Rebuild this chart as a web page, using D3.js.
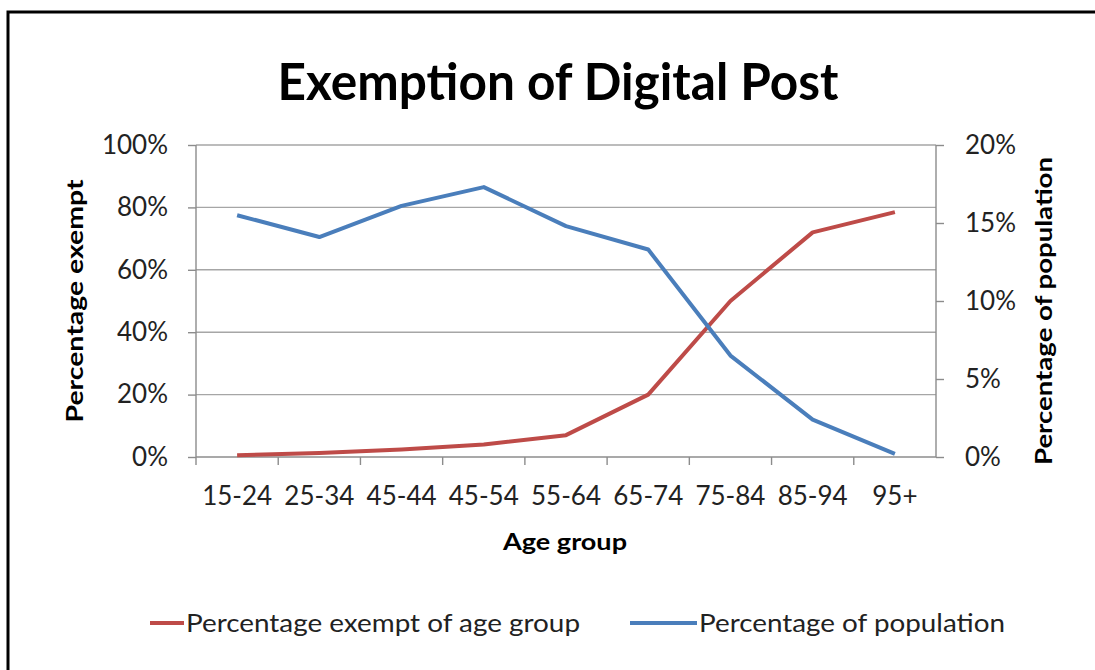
<!DOCTYPE html>
<html>
<head>
<meta charset="utf-8">
<script src="https://cdn.jsdelivr.net/npm/d3@7/dist/d3.min.js"></script>
<style>
  html, body { margin: 0; padding: 0; background: #fff; }
  svg { display: block; }
  text { font-family: Lato, "Open Sans", sans-serif; fill: #222; }
</style>
</head>
<body>
<svg id="chart" width="1095" height="670"></svg>
<script>
// Age groups on the category axis
const categories = ["15-24", "25-34", "45-44", "45-54", "55-64", "65-74", "75-84", "85-94", "95+"];
// Share of each age group that is exempt (left axis, %)
const exemptPct = [0.6, 1.3, 2.4, 4.0, 7.0, 20.0, 50.0, 72.0, 78.5];
// Share of the total population in each age group (right axis, %)
const populationPct = [15.5, 14.1, 16.1, 17.3, 14.8, 13.3, 6.5, 2.4, 0.2];
// Axis tick values
const leftTicks = [0, 20, 40, 60, 80, 100];
const rightTicks = [0, 5, 10, 15, 20];

const svg = d3.select("#chart");
const plot = { left: 196, right: 936, top: 145, bottom: 457 };

const x = d3.scaleBand().domain(categories).range([plot.left, plot.right]).padding(0);
const yL = d3.scaleLinear().domain([0, 100]).range([plot.bottom, plot.top]);
const yR = d3.scaleLinear().domain([0, 20]).range([plot.bottom, plot.top]);
const cx = c => x(c) + x.bandwidth() / 2;

// squeeze a text node to a given width when its natural width differs
function fit(sel, w) {
  sel.each(function () {
    const n = this.getComputedTextLength();
    if (Math.abs(n - w) / w > 0.02) {
      d3.select(this).attr("textLength", w).attr("lengthAdjust", "spacingAndGlyphs");
    }
  });
  return sel;
}

// outer frame
svg.append("path")
  .attr("d", "M8,670 V12 H1095")
  .attr("fill", "none").attr("stroke", "#000").attr("stroke-width", 3);

// title
fit(svg.append("text")
  .attr("x", 558).attr("y", 100)
  .attr("text-anchor", "middle")
  .style("font-size", "52px").style("font-weight", "bold").style("fill", "#000")
  .text("Exemption of Digital Post"), 561);

// horizontal gridlines
svg.append("g").selectAll("line")
  .data(leftTicks.filter(d => d > 0))
  .join("line")
  .attr("x1", plot.left).attr("x2", plot.right)
  .attr("y1", d => yL(d)).attr("y2", d => yL(d))
  .attr("stroke", "#a6a6a6").attr("stroke-width", 1.4);

// left axis
const axL = svg.append("g")
  .attr("transform", `translate(${plot.left},0)`)
  .call(d3.axisLeft(yL).tickValues(leftTicks).tickFormat(d => d + "%").tickSize(8).tickPadding(20));
// right axis
const axR = svg.append("g")
  .attr("transform", `translate(${plot.right},0)`)
  .call(d3.axisRight(yR).tickValues(rightTicks).tickFormat(d => d + "%").tickSize(8).tickPadding(21));
// category axis with ticks on the band boundaries
const axB = svg.append("g")
  .attr("transform", `translate(0,${plot.bottom})`)
  .call(d3.axisBottom(x).tickSize(0).tickPadding(30));
axB.selectAll(".tick").append("line")
  .attr("x1", -x.bandwidth() / 2).attr("x2", -x.bandwidth() / 2)
  .attr("y1", 0).attr("y2", 8);
axB.append("line")
  .attr("x1", plot.right).attr("x2", plot.right).attr("y1", 0).attr("y2", 8);

[axL, axR, axB].forEach(ax => {
  ax.select(".domain").attr("stroke", "#8c8c8c").attr("stroke-width", 1.4);
  ax.selectAll(".tick line").attr("stroke", "#8c8c8c").attr("stroke-width", 1.4);
  ax.selectAll("text")
    .style("font-family", "Lato, sans-serif").style("font-size", "26px").style("fill", "#222");
});
axB.select(".domain").attr("d", `M${plot.left},0H${plot.right}`);
axL.select(".domain").attr("d", `M0,${plot.bottom}V${plot.top}`);
axR.select(".domain").attr("d", `M0,${plot.bottom}V${plot.top}`);

// axis titles
fit(svg.append("text")
  .attr("x", 565).attr("y", 550)
  .attr("text-anchor", "middle")
  .style("font-size", "22px").style("font-weight", "bold").style("fill", "#000")
  .text("Age group"), 124);

fit(svg.append("text")
  .attr("transform", "translate(83,301) rotate(-90)")
  .attr("text-anchor", "middle")
  .style("font-size", "22px").style("font-weight", "bold").style("fill", "#000")
  .text("Percentage exempt"), 243);

fit(svg.append("text")
  .attr("transform", "translate(1052,311) rotate(-90)")
  .attr("text-anchor", "middle")
  .style("font-size", "22px").style("font-weight", "bold").style("fill", "#000")
  .text("Percentage of population"), 308);

// series lines
const red = "#be4b48", blue = "#4a7ebb";
const lineL = d3.line().x((d, i) => cx(categories[i])).y(d => yL(d));
const lineR = d3.line().x((d, i) => cx(categories[i])).y(d => yR(d));

svg.append("path").datum(exemptPct)
  .attr("d", lineL).attr("fill", "none")
  .attr("stroke", red).attr("stroke-width", 4).attr("stroke-linejoin", "round");
svg.append("path").datum(populationPct)
  .attr("d", lineR).attr("fill", "none")
  .attr("stroke", blue).attr("stroke-width", 4).attr("stroke-linejoin", "round");

// legend
const legend = [
  { label: "Percentage exempt of age group", color: red, x1: 150, x2: 184, tx: 186, w: 394 },
  { label: "Percentage of population", color: blue, x1: 630, x2: 697, tx: 699, w: 306 }
];
const lg = svg.append("g");
legend.forEach(l => {
  lg.append("line")
    .attr("x1", l.x1).attr("x2", l.x2).attr("y1", 623).attr("y2", 623)
    .attr("stroke", l.color).attr("stroke-width", 4);
  fit(lg.append("text")
    .attr("x", l.tx).attr("y", 632)
    .style("font-size", "25px").style("fill", "#222")
    .text(l.label), l.w);
});
</script>
</body>
</html>
